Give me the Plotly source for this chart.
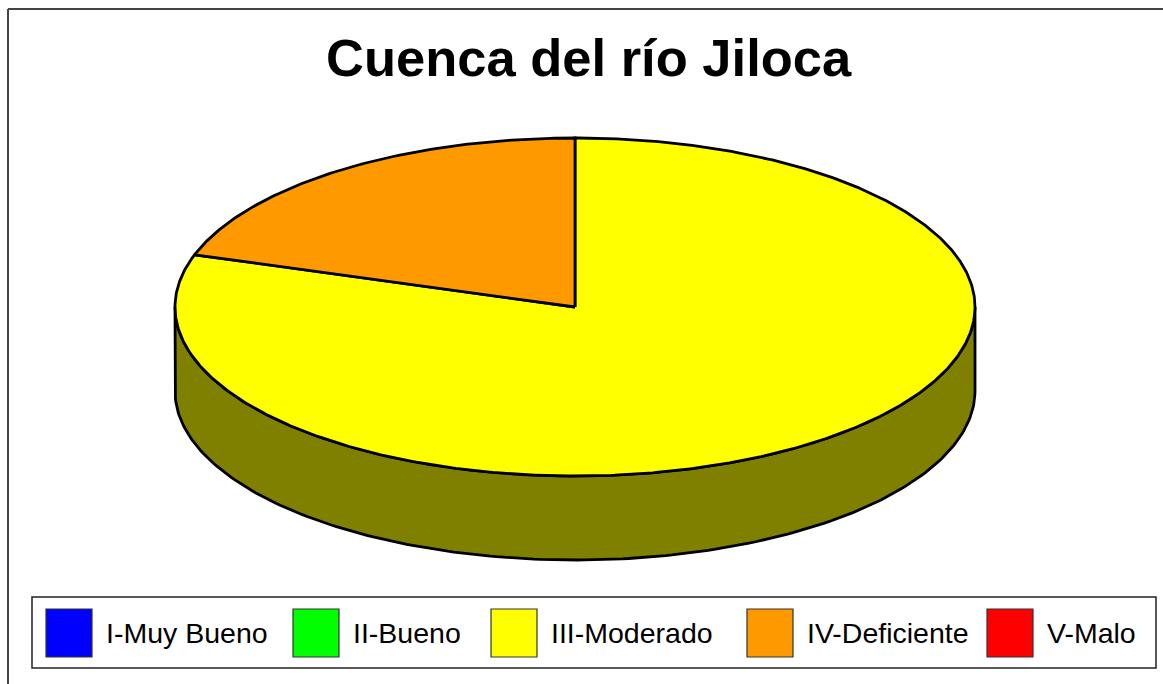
import numpy as np
import plotly.graph_objects as go

# Water-quality classes and share of the basin (percent)
categories = ["I-Muy Bueno", "II-Bueno", "III-Moderado", "IV-Deficiente", "V-Malo"]
values = [0, 0, 80, 20, 0]
colors = ["#0000FF", "#00FF00", "#FFFF00", "#FF9900", "#FF0000"]
title_text = "Cuenca del río Jiloca"

# Page geometry (pixel space)
W, H = 1163, 684
CX, CY = 575, 307          # centre of the top face
RX, RY = 400, 169          # ellipse radii of the top face
DEPTH = 84                 # thickness of the disc
START_ANGLE = 90           # first slice starts at 12 o'clock, clockwise

LEGEND_BOX = (32, 597, 1156, 668)
LEGEND_X = [46, 293, 491, 747, 987]
SWATCH_W, SWATCH_H = 46, 48
LEGEND_Y = 633
EDGE_W = 2.8


def darker(hex_color, f=0.5):
    r, g, b = (int(hex_color[i:i + 2], 16) for i in (1, 3, 5))
    return "rgb({},{},{})".format(int(r * f), int(g * f), int(b * f))


def arc(a0, a1, n=200, dy=0.0):
    t = np.radians(np.linspace(a0, a1, n))
    return CX + RX * np.cos(t), CY - RY * np.sin(t) + dy


fig = go.Figure()

total = float(sum(values))
spans = []
a = START_ANGLE
for v in values:
    b = a - 360.0 * v / total
    spans.append((a, b))
    a = b

# Side wall (front half only: angles between -180 and 0)
for (a0, a1), c, v in zip(spans, colors, values):
    if v <= 0:
        continue
    hi, lo = min(a0, 0.0), max(a1, -180.0)
    if hi <= lo:
        continue
    tx, ty = arc(hi, lo)
    bx, by = arc(lo, hi, dy=DEPTH)
    fig.add_trace(go.Scatter(
        x=np.concatenate([tx, bx, tx[:1]]), y=np.concatenate([ty, by, ty[:1]]),
        mode="lines", fill="toself", fillcolor=darker(c),
        line=dict(color="black", width=EDGE_W), hoverinfo="skip"))

# Top face wedges
for (a0, a1), c, v, name in zip(spans, colors, values, categories):
    if v <= 0:
        continue
    ax_, ay_ = arc(a0, a1, n=max(int(abs(a0 - a1) * 2), 10))
    fig.add_trace(go.Scatter(
        x=np.concatenate([[CX], ax_, [CX]]), y=np.concatenate([[CY], ay_, [CY]]),
        mode="lines", fill="toself", fillcolor=c, name=name,
        line=dict(color="black", width=EDGE_W), hoverinfo="skip"))

shapes = [
    # chart frame (left and top edges)
    dict(type="line", x0=8, x1=8, y0=9, y1=H + 5, line=dict(color="#444", width=2)),
    dict(type="line", x0=8, x1=W + 5, y0=9, y1=9, line=dict(color="#444", width=2)),
    # legend box
    dict(type="rect", x0=LEGEND_BOX[0], y0=LEGEND_BOX[1], x1=LEGEND_BOX[2], y1=LEGEND_BOX[3],
         line=dict(color="#222", width=1.5), fillcolor="white"),
]
annotations = [
    dict(x=589, y=57, text="<b>" + title_text + "</b>", showarrow=False,
         xanchor="center", yanchor="middle",
         font=dict(family="Arial, Liberation Sans", size=52.5, color="black")),
]
for x0, c, name in zip(LEGEND_X, colors, categories):
    shapes.append(dict(type="rect", x0=x0, x1=x0 + SWATCH_W,
                       y0=LEGEND_Y - SWATCH_H / 2, y1=LEGEND_Y + SWATCH_H / 2,
                       fillcolor=c, line=dict(color="#333", width=1.2)))
    annotations.append(dict(x=x0 + SWATCH_W + 12, y=LEGEND_Y, text=name, showarrow=False,
                            xanchor="left", yanchor="middle",
                            font=dict(family="Arial, Liberation Sans", size=28.5, color="black")))

fig.update_layout(
    width=W, height=H, margin=dict(l=0, r=0, t=0, b=0),
    paper_bgcolor="white", plot_bgcolor="white", showlegend=False,
    xaxis=dict(range=[0, W], visible=False, fixedrange=True),
    yaxis=dict(range=[H, 0], visible=False, fixedrange=True),
    shapes=shapes, annotations=annotations,
)

fig.write_html("out.html")
